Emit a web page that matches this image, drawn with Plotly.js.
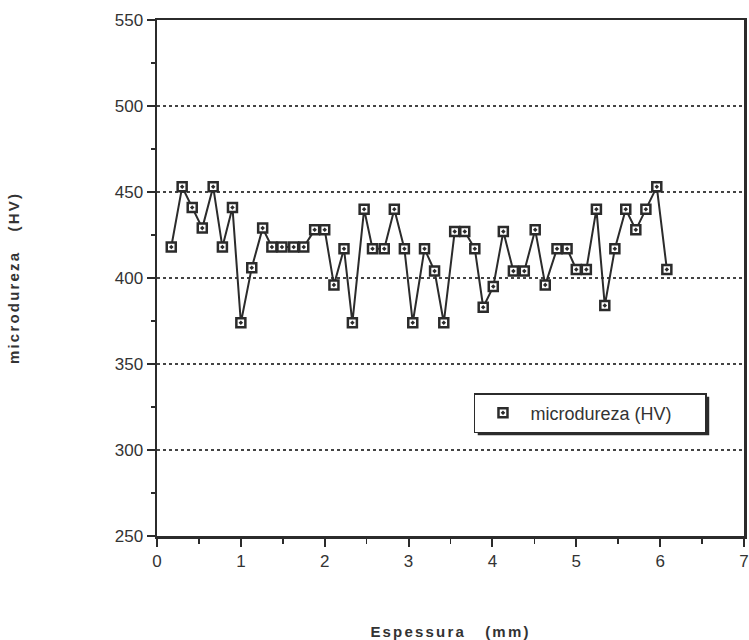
<!DOCTYPE html>
<html>
<head>
<meta charset="utf-8">
<script src="https://cdn.plot.ly/plotly-3.0.1.min.js"></script>
<style>
html,body{margin:0;padding:0;background:#fff;}
#chart{width:749px;height:640px;}
.xtitle,.ytitle{letter-spacing:2.2px;}
</style>
</head>
<body>
<div id="chart"></div>
<script>
var espessura = [0.17, 0.30, 0.42, 0.54, 0.67, 0.78, 0.90, 1.00, 1.13, 1.26,
                 1.37, 1.49, 1.63, 1.75, 1.88, 2.00, 2.11, 2.23, 2.33, 2.47,
                 2.57, 2.71, 2.83, 2.95, 3.05, 3.19, 3.31, 3.42, 3.55, 3.67,
                 3.79, 3.89, 4.01, 4.13, 4.25, 4.38, 4.51, 4.63, 4.77, 4.89,
                 5.00, 5.12, 5.24, 5.34, 5.46, 5.59, 5.71, 5.83, 5.96, 6.08];
var microdureza = [418, 453, 441, 429, 453, 418, 441, 374, 406, 429,
                   418, 418, 418, 418, 428, 428, 396, 417, 374, 440,
                   417, 417, 440, 417, 374, 417, 404, 374, 427, 427,
                   417, 383, 395, 427, 404, 404, 428, 396, 417, 417,
                   405, 405, 440, 384, 417, 440, 428, 440, 453, 405];
var xTicks = [0, 1, 2, 3, 4, 5, 6, 7];
var yTicks = [250, 300, 350, 400, 450, 500, 550];
var seriesName = 'microdureza (HV)';

var ink = '#2b2b2b';
var lineTrace = {
  x: espessura, y: microdureza, type: 'scatter', mode: 'lines',
  showlegend: false, line: {color: ink, width: 2}
};
var markerTrace = {
  x: espessura, y: microdureza, type: 'scatter', mode: 'markers',
  name: seriesName,
  marker: {symbol: 'square-dot', size: 9, color: '#ffffff', line: {color: ink, width: 2.5}}
};
var tickFont = {family: 'Liberation Sans, Arial, sans-serif', color: '#333', size: 17};
var titleFont = {family: 'Liberation Sans, Arial, sans-serif', color: '#333', size: 15};
var layout = {
  width: 749, height: 640,
  margin: {l: 157, r: 5, t: 20, b: 104},
  paper_bgcolor: '#ffffff', plot_bgcolor: '#ffffff',
  font: {family: 'Liberation Sans, Arial, sans-serif', color: '#333', size: 15},
  showlegend: true,
  legend: {x: 0.54, y: 0.277, xanchor: 'left', yanchor: 'top',
           bgcolor: '#ffffff', bordercolor: ink, borderwidth: 1.5,
           font: {size: 18, color: '#333'}, orientation: 'h',
           entrywidth: 170, itemwidth: 45},
  xaxis: {range: [0, 7], tickvals: xTicks, ticktext: xTicks.map(String), tickfont: tickFont,
          ticklabeloverflow: 'allow',
          showgrid: false, zeroline: false, showline: true, linecolor: ink, linewidth: 2.5,
          mirror: true, ticks: 'outside', ticklen: 8, tickwidth: 2, tickcolor: ink,
          minor: {dtick: 0.5, ticks: 'outside', ticklen: 5, tickwidth: 1.5, tickcolor: ink, showgrid: false},
          title: {text: '<b>Espessura&nbsp;&nbsp;&nbsp;(mm)</b>', font: titleFont, standoff: 58},
          automargin: false},
  yaxis: {range: [250, 550], tickvals: yTicks, ticktext: yTicks.map(String), tickfont: tickFont,
          showgrid: true, gridcolor: '#444', gridwidth: 1.5, griddash: 'dot',
          zeroline: false, showline: true, linecolor: ink, linewidth: 2.5,
          mirror: true, ticks: 'outside', ticklen: 8, tickwidth: 2, tickcolor: ink,
          minor: {dtick: 25, ticks: 'outside', ticklen: 4, tickwidth: 1.5, tickcolor: ink, showgrid: false},
          title: {text: '<b>microdureza&nbsp;&nbsp;&nbsp;(HV)</b>', font: titleFont, standoff: 92},
          automargin: false}
};
Plotly.newPlot('chart', [lineTrace, markerTrace], layout, {displayModeBar: false, staticPlot: true}).then(function (gd) {
  var bg = gd.querySelector('.legend .bg');
  if (!bg) return;
  var root = gd.getBoundingClientRect();
  var r = bg.getBoundingClientRect();
  var fs = gd._fullLayout._size;
  function px2x(p) { return (p - fs.l) / fs.w; }
  function px2y(p) { return 1 - (p - fs.t) / fs.h; }
  var off = 3;
  var x0 = r.left - root.left + off, x1 = r.right - root.left + off;
  var y0 = r.top - root.top + off, y1 = r.bottom - root.top + off;
  Plotly.relayout(gd, {shapes: [{type: 'rect', xref: 'paper', yref: 'paper', layer: 'above',
    x0: px2x(x0), x1: px2x(x1), y0: px2y(y1), y1: px2y(y0),
    fillcolor: ink, line: {width: 0}}]});
});
</script>
</body>
</html>
